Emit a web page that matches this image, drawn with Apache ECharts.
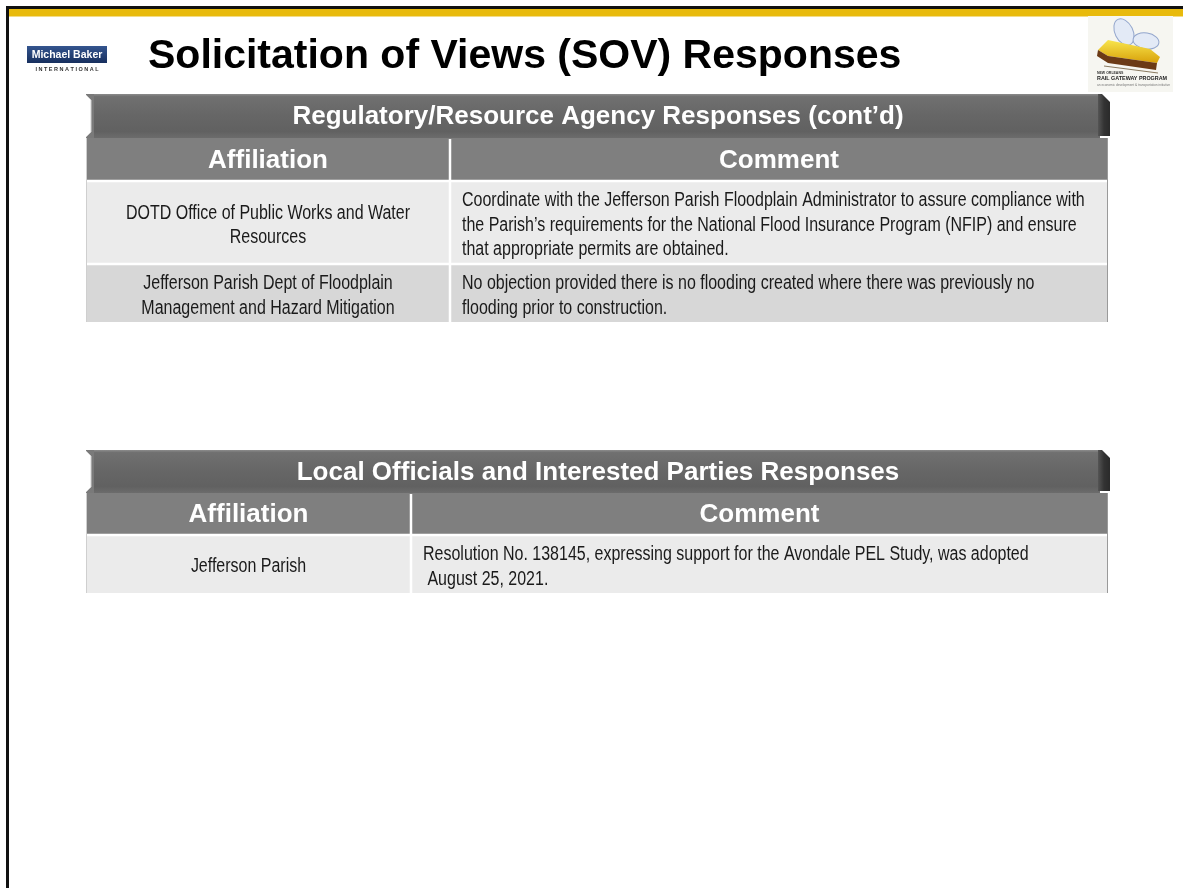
<!DOCTYPE html>
<html>
<head>
<meta charset="utf-8">
<script src="https://cdn.jsdelivr.net/npm/echarts@6/dist/echarts.min.js"></script>
<style>
  html, body { margin: 0; padding: 0; background: #ffffff; }
  #chart { width: 1183px; height: 888px; }
</style>
</head>
<body>
<div id="chart"></div>
<script>
// ---------- content ----------
const slideTitle = 'Solicitation of Views (SOV) Responses';
const bakerName = 'Michael Baker';
const bakerSub = 'I N T E R N A T I O N A L';
const railLogoLines = ['NEW ORLEANS', 'RAIL GATEWAY PROGRAM', 'an economic development & transportation initiative'];

const table1Title = 'Regulatory/Resource Agency Responses (cont\u2019d)';
const table1Columns = ['Affiliation', 'Comment'];
const table1Affiliations = [
  'DOTD Office of Public Works and Water\nResources',
  'Jefferson Parish Dept of Floodplain\nManagement and Hazard Mitigation'
];
const table1Comments = [
  'Coordinate with the Jefferson Parish Floodplain Administrator to assure compliance with\nthe Parish\u2019s requirements for the National Flood Insurance Program (NFIP) and ensure\nthat appropriate permits are obtained.',
  'No objection provided there is no flooding created where there was previously no\nflooding prior to construction.'
];

const table2Title = 'Local Officials and Interested Parties Responses';
const table2Columns = ['Affiliation', 'Comment'];
const table2Affiliations = ['Jefferson Parish'];
const table2Comments = ['Resolution No. 138145, expressing support for the Avondale PEL Study, was adopted\n August 25, 2021.'];

// ---------- layout / style ----------
const SANS = '"Liberation Sans", Arial, Helvetica, sans-serif';
const NARROW_SCALE = 0.82; // Arial Narrow look: Arial condensed horizontally
const G = echarts.graphic;

function titleBar(x0, x1, y0, y1, text) {
  const els = [];
  const h = y1 - y0;
  els.push({ type: 'rect', shape: { x: x0 + 6, y: y0, width: x1 - x0 - 14, height: h },
    style: { fill: new G.LinearGradient(0, 0, 0, 1, [
      { offset: 0, color: '#8c8c8c' }, { offset: 0.06, color: '#707070' },
      { offset: 0.5, color: '#666666' }, { offset: 0.85, color: '#616161' }, { offset: 1, color: '#6c6c6c' }]) } });
  els.push({ type: 'polygon', shape: { points: [[x0, y0], [x0 + 8, y0], [x0 + 8, y1], [x0, y1], [x0, y1 - 1], [x0 + 5, y1 - 6], [x0 + 5, y0 + 6], [x0, y0 + 1]] },
    style: { fill: '#7a7a7a' } });
  els.push({ type: 'polyline', shape: { points: [[x0, y0 + 1], [x0 + 5, y0 + 6], [x0 + 5, y1 - 6], [x0, y1 - 1]] },
    style: { stroke: '#d0d0d0', lineWidth: 1, fill: null } });
  els.push({ type: 'polygon', shape: { points: [[x1 - 10, y0], [x1 - 6, y0], [x1 + 2, y0 + 8], [x1 + 2, y1 - 2], [x1 - 10, y1 - 2]] },
    style: { fill: new G.LinearGradient(0, 0, 1, 0, [{ offset: 0, color: '#555555' }, { offset: 0.5, color: '#333333' }, { offset: 1, color: '#2a2a2a' }]) } });
  els.push({ type: 'text', x: (x0 + x1) / 2 + 1, y: (y0 + y1) / 2 + 1,
    style: { text: text, font: 'bold 26px ' + SANS, fill: '#ffffff', align: 'center', verticalAlign: 'middle' } });
  return els;
}

function cellText(x, y, text, align) {
  return { type: 'text', x: x, y: y, scaleX: NARROW_SCALE, scaleY: 1,
    style: { text: text, font: '19.5px ' + SANS, fill: '#1a1a1a', align: align, verticalAlign: 'middle', lineHeight: 24.5 } };
}

function table(cfg) {
  const els = [];
  const { x0, x1, div, barTop, headTop, headBot, rowBounds, rowFills, title, columns, left, right, commentX } = cfg;
  els.push(...titleBar(x0, x1, barTop, headTop, title));
  els.push({ type: 'rect', shape: { x: x0, y: headTop, width: x1 - x0, height: headBot - headTop }, style: { fill: '#7f7f7f' } });
  els.push({ type: 'text', x: (x0 + div) / 2, y: (headTop + headBot) / 2 + 1,
    style: { text: columns[0], font: 'bold 26px ' + SANS, fill: '#ffffff', align: 'center', verticalAlign: 'middle' } });
  els.push({ type: 'text', x: (div + x1) / 2, y: (headTop + headBot) / 2 + 1,
    style: { text: columns[1], font: 'bold 26px ' + SANS, fill: '#ffffff', align: 'center', verticalAlign: 'middle' } });
  for (let i = 0; i < left.length; i++) {
    const ya = rowBounds[i], yb = rowBounds[i + 1];
    els.push({ type: 'rect', shape: { x: x0, y: ya, width: x1 - x0, height: yb - ya }, style: { fill: rowFills[i] } });
    const cy = (ya + yb) / 2 + 3;
    els.push(cellText((x0 + div) / 2, cy, left[i], 'center'));
    els.push(cellText(commentX, cy, right[i], 'left'));
  }
  const yEnd = rowBounds[rowBounds.length - 1];
  els.push({ type: 'line', shape: { x1: x0, y1: headBot, x2: x1, y2: headBot }, style: { stroke: '#ffffff', lineWidth: 2.5 } });
  for (let i = 1; i < rowBounds.length - 1; i++) {
    els.push({ type: 'line', shape: { x1: x0, y1: rowBounds[i], x2: x1, y2: rowBounds[i] }, style: { stroke: '#ffffff', lineWidth: 2.5 } });
  }
  els.push({ type: 'line', shape: { x1: div, y1: headTop + 1, x2: div, y2: yEnd }, style: { stroke: '#ffffff', lineWidth: 2.5 } });
  els.push({ type: 'line', shape: { x1: x0 + 0.5, y1: headTop, x2: x0 + 0.5, y2: yEnd }, style: { stroke: '#cfcfcf', lineWidth: 1 } });
  els.push({ type: 'line', shape: { x1: x1 - 0.5, y1: headTop, x2: x1 - 0.5, y2: yEnd }, style: { stroke: '#9a9a9a', lineWidth: 1 } });
  return els;
}

const elements = [];
// slide frame
elements.push({ type: 'rect', shape: { x: 6, y: 6, width: 1177, height: 3 }, style: { fill: '#111111' } });
elements.push({ type: 'rect', shape: { x: 6, y: 6, width: 3, height: 882 }, style: { fill: '#111111' } });
elements.push({ type: 'rect', shape: { x: 9, y: 9, width: 1174, height: 7.5 }, style: { fill: '#e8ba0c' } });

// Michael Baker logo
elements.push({ type: 'rect', shape: { x: 27, y: 46, width: 80, height: 17 },
  style: { fill: new G.LinearGradient(0, 0, 0, 1, [{ offset: 0, color: '#34558f' }, { offset: 1, color: '#172f5e' }]) } });
elements.push({ type: 'text', x: 67, y: 55, style: { text: bakerName, font: 'bold 10.5px ' + SANS, fill: '#ffffff', align: 'center', verticalAlign: 'middle' } });
elements.push({ type: 'text', x: 67, y: 69, style: { text: bakerSub, font: 'bold 5.5px ' + SANS, fill: '#333333', align: 'center', verticalAlign: 'middle' } });

// slide title
elements.push({ type: 'text', x: 148, y: 57, style: { text: slideTitle, font: 'bold 41px ' + SANS, fill: '#000000', align: 'left', verticalAlign: 'middle' } });

// Rail gateway logo (approximation)
elements.push({ type: 'rect', shape: { x: 1088, y: 16, width: 85, height: 76 }, style: { fill: '#f6f6f1' } });
elements.push({ type: 'ellipse', shape: { cx: 1124, cy: 32, rx: 9, ry: 14 }, rotation: 0.45, originX: 1124, originY: 32,
  style: { fill: '#e3eaf6', stroke: '#93a6cc', lineWidth: 1 } });
elements.push({ type: 'ellipse', shape: { cx: 1146, cy: 41, rx: 13, ry: 8 }, rotation: -0.15, originX: 1146, originY: 41,
  style: { fill: '#e3eaf6', stroke: '#93a6cc', lineWidth: 1 } });
elements.push({ type: 'polygon', shape: { points: [[1098, 50], [1108, 40], [1150, 49], [1160, 57], [1157, 63], [1108, 56]] },
  style: { fill: new G.LinearGradient(0, 0, 0, 1, [{ offset: 0, color: '#f8e54c' }, { offset: 1, color: '#d8a10a' }]) } });
elements.push({ type: 'polygon', shape: { points: [[1098, 50], [1108, 56], [1157, 63], [1156, 70], [1108, 63], [1097, 56]] },
  style: { fill: '#6b3a16' } });
elements.push({ type: 'line', shape: { x1: 1104, y1: 66, x2: 1158, y2: 73 }, style: { stroke: '#8a7a60', lineWidth: 1 } });
elements.push({ type: 'text', x: 1097, y: 73, style: { text: railLogoLines[0], font: 'bold 3.5px ' + SANS, fill: '#333333', align: 'left', verticalAlign: 'middle' } });
elements.push({ type: 'text', x: 1097, y: 79, style: { text: railLogoLines[1], font: 'bold 5.4px ' + SANS, fill: '#222222', align: 'left', verticalAlign: 'middle' } });
elements.push({ type: 'text', x: 1097, y: 85, style: { text: railLogoLines[2], font: '3.2px ' + SANS, fill: '#777777', align: 'left', verticalAlign: 'middle' } });

// tables
elements.push(...table({
  x0: 86, x1: 1108, div: 450, barTop: 94, headTop: 138, headBot: 181,
  rowBounds: [181, 264, 322], rowFills: ['#ebebeb', '#d7d7d7'],
  title: table1Title, columns: table1Columns, left: table1Affiliations, right: table1Comments, commentX: 462
}));
elements.push(...table({
  x0: 86, x1: 1108, div: 411, barTop: 450, headTop: 493, headBot: 535,
  rowBounds: [535, 593], rowFills: ['#ebebeb'],
  title: table2Title, columns: table2Columns, left: table2Affiliations, right: table2Comments, commentX: 423
}));

const chart = echarts.init(document.getElementById('chart'), null, { renderer: 'canvas' });
chart.setOption({ animation: false, backgroundColor: '#ffffff', graphic: { elements: elements } });
</script>
</body>
</html>
